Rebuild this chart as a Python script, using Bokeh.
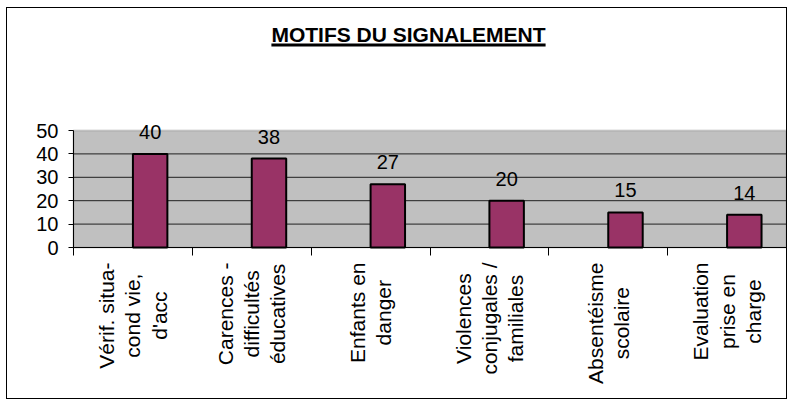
import numpy as np
from bokeh.plotting import figure
from bokeh.models import (ColumnDataSource, Range1d, FixedTicker, LabelSet, Label,
                          BoxAnnotation, LinearAxis)
from bokeh.core.properties import value
from bokeh.embed import file_html
from bokeh.resources import INLINE

# ---- data ----
categories = [
    "Vérif. situa-\ncond vie,\nd'acc",
    "Carences -\ndifficultés\néducatives",
    "Enfants en\ndanger",
    "Violences\nconjugales /\nfamiliales",
    "Absentéisme\nscolaire",
    "Evaluation\nprise en\ncharge",
]
values = [40, 38, 27, 20, 15, 14]
y_ticks = [0, 10, 20, 30, 40, 50]
title_text = "MOTIFS DU SIGNALEMENT"

# ---- layout (pixels on the canvas) ----
W, H = 781, 392
PX_LEFT, PX_RIGHT, PX_TOP, PX_BOTTOM = 66, 779, 122, 239
FONT = "Liberation Sans"
BAR_W = 0.29
LABEL_FS = 21
LABEL_GAP = 15

# Arial / Liberation Sans advance widths (1/1000 em)
ADV = {" ": 278, "'": 191, "-": 333, ".": 278, "/": 278, ",": 278,
       "a": 556, "b": 556, "c": 500, "d": 556, "e": 556, "f": 278, "g": 556,
       "h": 556, "i": 222, "j": 222, "k": 500, "l": 222, "m": 833, "n": 556,
       "o": 556, "p": 556, "q": 556, "r": 333, "s": 500, "t": 278, "u": 556,
       "v": 500, "w": 722, "x": 500, "y": 500, "z": 500, "é": 556,
       "A": 667, "C": 722, "E": 667, "V": 667}
ADV_BOLD = {" ": 278, "A": 722, "D": 722, "E": 667, "F": 611, "G": 778, "I": 278,
            "L": 611, "M": 833, "N": 722, "O": 778, "S": 667, "T": 611, "U": 722}


def text_width(s, fs, table):
    return sum(table.get(ch, 556) for ch in s) / 1000.0 * fs


n = len(categories)
ymax = max(y_ticks)
ux = (PX_RIGHT - PX_LEFT) / n
uy = (PX_BOTTOM - PX_TOP) / ymax

centers = np.arange(n) + 0.5
bar_src = ColumnDataSource(dict(
    x=centers + BAR_W / 2,
    top=values,
    label=[str(v) for v in values],
))
lab_src = ColumnDataSource(dict(
    x=centers,
    y=np.zeros(n),
    text=categories,
    yoff=[LABEL_GAP + max(text_width(l, LABEL_FS, ADV) for l in c.split("\n")) / 2
          for c in categories],
))
grid_src = ColumnDataSource(dict(y=y_ticks[1:-1]))

p = figure(width=W, height=H, output_backend="svg", toolbar_location=None,
           x_range=Range1d(-PX_LEFT / ux, n + (W - PX_RIGHT) / ux),
           y_range=Range1d(-(H - PX_BOTTOM) / uy, ymax + PX_TOP / uy),
           x_axis_type=None, y_axis_type=None,
           min_border=0, background_fill_color="white", border_fill_color="white",
           outline_line_color=None,
           styles={"border": "1px solid black"})
p.margin = (7, 0, 0, 6)

# plot area
p.add_layout(BoxAnnotation(left=0, right=n, bottom=0, top=ymax,
                           fill_color="#C0C0C0", fill_alpha=1,
                           line_color="#808080", line_width=2, level="underlay"))
p.segment(x0=0, x1=n, y0="y", y1="y", source=grid_src, line_color="#202020",
          line_width=1)

p.vbar(x="x", top="top", width=BAR_W, bottom=0, source=bar_src,
       fill_color="#993366", line_color="black", line_width=2)

p.add_layout(LabelSet(x="x", y="top", text="label", source=bar_src,
                      text_align="center", text_baseline="bottom", y_offset=15,
                      text_font=value(FONT), text_font_size="20px",
                      text_color="black"))

# y axis
yaxis = LinearAxis(fixed_location=0, bounds=(0, ymax), ticker=FixedTicker(ticks=y_ticks),
                   axis_line_color="black", major_tick_line_color="black",
                   major_tick_out=5, major_tick_in=0, minor_tick_line_color=None,
                   major_label_standoff=10, major_label_text_font=FONT,
                   major_label_text_font_size="20px", major_label_text_color="black")
p.add_layout(yaxis, "left")

# x axis (tick marks between categories)
xaxis = LinearAxis(fixed_location=0, bounds=(0, n),
                   ticker=FixedTicker(ticks=[], minor_ticks=list(range(n + 1))),
                   axis_line_color="black", major_tick_line_color=None,
                   minor_tick_line_color="black", minor_tick_out=8, minor_tick_in=0)
p.add_layout(xaxis, "below")

# category labels
p.text(x="x", y="y", text="text", source=lab_src, angle=np.pi / 2,
       text_align="center", text_baseline="middle", y_offset="yoff",
       text_font=value(FONT), text_font_size=f"{LABEL_FS}px",
       text_line_height=1.14, text_color="black")

# title with underline
TITLE_FS = 21
title_cx = (401 - PX_LEFT) / ux
title_base = (PX_BOTTOM - 26) / uy
line_top = (PX_BOTTOM - 35) / uy
line_bot = (PX_BOTTOM - 38) / uy
tw = text_width(title_text, TITLE_FS, ADV_BOLD) / ux
p.add_layout(Label(x=title_cx, y=title_base, text=title_text,
                   text_align="center", text_baseline="alphabetic",
                   text_font=FONT, text_font_size=f"{TITLE_FS}px",
                   text_font_style="bold", text_color="black"))
p.add_layout(BoxAnnotation(left=title_cx - tw / 2, right=title_cx + tw / 2,
                           top=line_top, bottom=line_bot,
                           fill_color="black", fill_alpha=1, line_color=None))

open("out.html", "w").write(file_html(p, INLINE))
